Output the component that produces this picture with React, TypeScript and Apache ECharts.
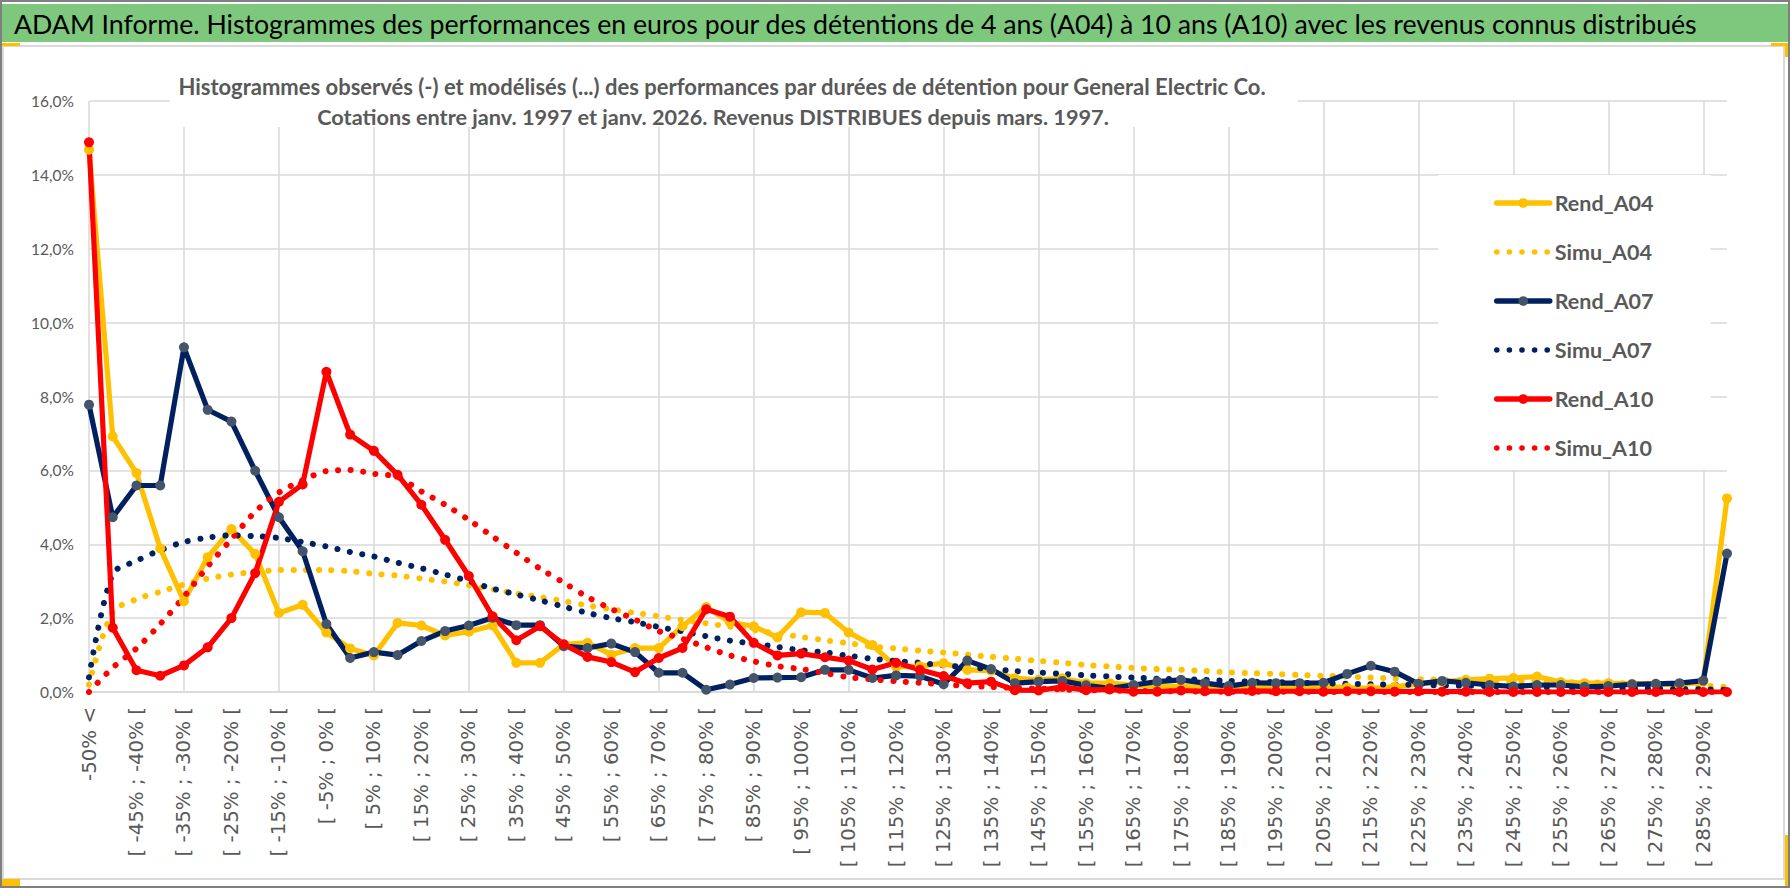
import React, { useEffect, useRef } from 'react';
import * as echarts from 'echarts';

const categories = [
  '-50% <',
  '[ -50% ; -45% [', '[ -45% ; -40% [', '[ -40% ; -35% [', '[ -35% ; -30% [', '[ -30% ; -25% [',
  '[ -25% ; -20% [', '[ -20% ; -15% [', '[ -15% ; -10% [', '[ -10% ; -5% [', '[ -5% ; 0% [',
  '[ 0% ; 5% [', '[ 5% ; 10% [', '[ 10% ; 15% [', '[ 15% ; 20% [', '[ 20% ; 25% [',
  '[ 25% ; 30% [', '[ 30% ; 35% [', '[ 35% ; 40% [', '[ 40% ; 45% [', '[ 45% ; 50% [',
  '[ 50% ; 55% [', '[ 55% ; 60% [', '[ 60% ; 65% [', '[ 65% ; 70% [', '[ 70% ; 75% [',
  '[ 75% ; 80% [', '[ 80% ; 85% [', '[ 85% ; 90% [', '[ 90% ; 95% [', '[ 95% ; 100% [',
  '[ 100% ; 105% [', '[ 105% ; 110% [', '[ 110% ; 115% [', '[ 115% ; 120% [', '[ 120% ; 125% [',
  '[ 125% ; 130% [', '[ 130% ; 135% [', '[ 135% ; 140% [', '[ 140% ; 145% [', '[ 145% ; 150% [',
  '[ 150% ; 155% [', '[ 155% ; 160% [', '[ 160% ; 165% [', '[ 165% ; 170% [', '[ 170% ; 175% [',
  '[ 175% ; 180% [', '[ 180% ; 185% [', '[ 185% ; 190% [', '[ 190% ; 195% [', '[ 195% ; 200% [',
  '[ 200% ; 205% [', '[ 205% ; 210% [', '[ 210% ; 215% [', '[ 215% ; 220% [', '[ 220% ; 225% [',
  '[ 225% ; 230% [', '[ 230% ; 235% [', '[ 235% ; 240% [', '[ 240% ; 245% [', '[ 245% ; 250% [',
  '[ 250% ; 255% [', '[ 255% ; 260% [', '[ 260% ; 265% [', '[ 265% ; 270% [', '[ 270% ; 275% [',
  '[ 275% ; 280% [', '[ 280% ; 285% [', '[ 285% ; 290% [', '> 290%',
];

const rendA04 = [
  14.68, 6.92, 5.93, 3.89, 2.46, 3.65, 4.41, 3.74, 2.14, 2.36,
  1.61, 1.18, 0.99, 1.87, 1.80, 1.53, 1.63, 1.80, 0.79, 0.79,
  1.29, 1.33, 1.01, 1.19, 1.19, 1.78, 2.30, 1.89, 1.78, 1.48,
  2.16, 2.14, 1.61, 1.27, 0.68, 0.70, 0.78, 0.60, 0.58, 0.37,
  0.33, 0.37, 0.24, 0.24, 0.18, 0.15, 0.15, 0.12, 0.12, 0.15,
  0.12, 0.12, 0.15, 0.12, 0.10, 0.14, 0.22, 0.28, 0.33, 0.36,
  0.38, 0.42, 0.27, 0.24, 0.24, 0.22, 0.22, 0.19, 0.28, 5.24,
];

const simuA04 = [
  0.20, 2.17, 2.51, 2.71, 2.91, 3.07, 3.18, 3.25, 3.30, 3.30,
  3.30, 3.27, 3.20, 3.15, 3.07, 2.99, 2.89, 2.78, 2.67, 2.57,
  2.46, 2.34, 2.24, 2.14, 2.05, 1.95, 1.86, 1.77, 1.68, 1.58,
  1.49, 1.40, 1.32, 1.23, 1.18, 1.12, 1.07, 1.01, 0.95, 0.90,
  0.84, 0.79, 0.73, 0.69, 0.65, 0.62, 0.60, 0.57, 0.53, 0.51,
  0.49, 0.46, 0.44, 0.42, 0.39, 0.37, 0.35, 0.33, 0.31, 0.30,
  0.29, 0.28, 0.27, 0.26, 0.25, 0.23, 0.22, 0.20, 0.17, 0.14,
];

const rendA07 = [
  7.78, 4.73, 5.59, 5.59, 9.33, 7.64, 7.32, 5.99, 4.73, 3.81,
  1.84, 0.92, 1.08, 1.00, 1.38, 1.65, 1.80, 2.01, 1.81, 1.81,
  1.24, 1.19, 1.31, 1.08, 0.52, 0.52, 0.06, 0.20, 0.38, 0.39,
  0.40, 0.60, 0.60, 0.38, 0.45, 0.43, 0.21, 0.85, 0.62, 0.24,
  0.28, 0.30, 0.18, 0.10, 0.19, 0.28, 0.33, 0.24, 0.16, 0.25,
  0.24, 0.24, 0.25, 0.49, 0.71, 0.55, 0.22, 0.30, 0.25, 0.19,
  0.15, 0.19, 0.19, 0.14, 0.16, 0.21, 0.22, 0.24, 0.31, 3.75,
];

const simuA07 = [
  0.40, 3.20, 3.55, 3.84, 4.06, 4.18, 4.24, 4.22, 4.17, 4.06,
  3.94, 3.79, 3.67, 3.50, 3.35, 3.18, 3.00, 2.80, 2.64, 2.48,
  2.31, 2.14, 2.00, 1.89, 1.76, 1.64, 1.51, 1.39, 1.31, 1.22,
  1.13, 1.07, 0.98, 0.90, 0.84, 0.79, 0.72, 0.67, 0.62, 0.57,
  0.53, 0.49, 0.45, 0.42, 0.39, 0.36, 0.34, 0.33, 0.30, 0.28,
  0.27, 0.25, 0.24, 0.22, 0.21, 0.20, 0.19, 0.18, 0.17, 0.16,
  0.15, 0.14, 0.13, 0.12, 0.11, 0.10, 0.09, 0.08, 0.07, 0.06,
];

const rendA10 = [
  14.88, 1.74, 0.59, 0.44, 0.72, 1.21, 2.00, 3.22, 5.15, 5.62,
  8.67, 6.97, 6.53, 5.88, 5.07, 4.12, 3.14, 2.05, 1.40, 1.78,
  1.29, 0.95, 0.81, 0.54, 0.92, 1.19, 2.24, 2.04, 1.33, 0.99,
  1.04, 0.94, 0.85, 0.61, 0.79, 0.60, 0.43, 0.24, 0.28, 0.05,
  0.04, 0.14, 0.05, 0.07, 0.01, 0.01, 0.04, 0.02, 0.02, 0.03,
  0.02, 0.02, 0.01, 0.02, 0.02, 0.01, 0.02, 0.01, 0.01, 0.00,
  0.00, 0.00, 0.00, 0.00, 0.00, 0.00, 0.00, 0.00, 0.00, 0.00,
];

const simuA10 = [
  0.00, 0.66, 1.18, 1.84, 2.58, 3.40, 4.14, 4.88, 5.40, 5.73,
  5.98, 6.01, 5.91, 5.82, 5.43, 5.07, 4.66, 4.21, 3.77, 3.34,
  2.96, 2.57, 2.25, 1.96, 1.65, 1.44, 1.21, 0.99, 0.83, 0.70,
  0.62, 0.51, 0.40, 0.34, 0.29, 0.25, 0.21, 0.16, 0.14, 0.11,
  0.09, 0.07, 0.05, 0.04, 0.03, 0.02, 0.02, 0.01, 0.01, 0.01,
  0.01, 0.01, 0.00, 0.00, 0.00, 0.00, 0.00, 0.00, 0.00, 0.00,
  0.00, 0.00, 0.00, 0.00, 0.00, 0.00, 0.00, 0.00, 0.00, 0.00,
];

const yTicks = { min: 0, max: 16, interval: 2 };

const mainTitle =
  'ADAM Informe. Histogrammes des performances en euros pour des détentions de 4 ans (A04) à 10 ans (A10) avec les revenus connus distribués';
const subTitle1 =
  'Histogrammes observés (-) et modélisés (...) des performances par durées de détention pour General Electric Co.';
const subTitle2 =
  'Cotations entre janv. 1997 et janv. 2026. Revenus DISTRIBUES depuis mars. 1997.';

const YELLOW = '#FFC000';
const NAVY = '#002060';
const NAVY_MARK = '#44546A';
const RED = '#FF0000';
const GRID = '#D9D9D9';
const TXT = '#595959';

function rend(name: string, data: number[], lineColor: string, markColor: string) {
  return {
    name,
    type: 'line',
    data,
    symbol: 'circle',
    symbolSize: 10,
    showSymbol: true,
    lineStyle: { color: lineColor, width: 5.2, join: 'round', cap: 'round' },
    itemStyle: { color: markColor, borderWidth: 0 },
    emphasis: { disabled: true },
  };
}

function simu(name: string, data: number[], color: string) {
  return {
    name,
    type: 'line',
    data,
    symbol: 'none',
    smooth: 0.3,
    lineStyle: { color, width: 6, type: [0.1, 12.5], cap: 'round' },
    itemStyle: { color },
    emphasis: { disabled: true },
  };
}

export default function App() {
  const ref = useRef<HTMLDivElement>(null);

  useEffect(() => {
    if (!ref.current) return;
    const chart = echarts.init(ref.current, undefined, { renderer: 'svg', width: 1790, height: 888 });
    const option: any = {
      animation: false,
      backgroundColor: '#ffffff',
      title: [
        {
          text: mainTitle,
          left: 14,
          top: 10,
          padding: 0,
          textStyle: { fontFamily: 'Lato', fontSize: 26.7, fontWeight: 'normal', color: '#000000' },
          z: 8,
        },
      ],
      graphic: [
        { type: 'rect', z: 1, shape: { x: 2, y: 4, width: 1786, height: 38 }, style: { fill: '#7DC87D' } },
        { type: 'rect', z: 1, shape: { x: 3, y: 46, width: 1781, height: 833 }, style: { fill: 'none', stroke: '#D9D9D9', lineWidth: 2 } },
        { type: 'rect', z: 10, shape: { x: 170, y: 64, width: 1128, height: 63 }, style: { fill: '#ffffff' } },
        {
          type: 'text', z: 11, x: 722, y: 86,
          style: { text: subTitle1, fill: TXT, font: 'bold 22px Lato', textAlign: 'center', textVerticalAlign: 'middle' },
        },
        {
          type: 'text', z: 11, x: 713, y: 117,
          style: { text: subTitle2, fill: TXT, font: 'bold 21.7px Lato', textAlign: 'center', textVerticalAlign: 'middle' },
        },
        { type: 'rect', z: 20, shape: { x: 2, y: 43, width: 18, height: 3 }, style: { fill: YELLOW } },
        { type: 'rect', z: 20, shape: { x: 1771, y: 43, width: 17, height: 3 }, style: { fill: YELLOW } },
        { type: 'rect', z: 20, shape: { x: 1785, y: 43, width: 3, height: 14 }, style: { fill: YELLOW } },
        { type: 'rect', z: 20, shape: { x: 2, y: 879, width: 18, height: 7 }, style: { fill: YELLOW } },
        { type: 'rect', z: 20, shape: { x: 1785, y: 835, width: 3, height: 51 }, style: { fill: YELLOW } },
        { type: 'rect', z: 21, shape: { x: 1, y: 1, width: 1788, height: 886 }, style: { fill: 'none', stroke: '#7F7F7F', lineWidth: 2 } },
      ],
      legend: {
        orient: 'vertical',
        left: 1438,
        top: 175,
        padding: [17, 57, 11, 56],
        backgroundColor: '#ffffff',
        itemWidth: 53,
        itemHeight: 12,
        itemGap: 27,
        selectedMode: false,
        lineStyle: { width: 5.5 },
        textStyle: { color: TXT, fontFamily: 'Lato', fontSize: 21.5, fontWeight: 'bold' },
        data: [
          { name: 'Rend_A04' },
          { name: 'Simu_A04', itemStyle: { opacity: 0 } },
          { name: 'Rend_A07' },
          { name: 'Simu_A07', itemStyle: { opacity: 0 } },
          { name: 'Rend_A10' },
          { name: 'Simu_A10', itemStyle: { opacity: 0 } },
        ],
      },
      grid: { left: 89, right: 63, top: 101, bottom: 196, containLabel: false },
      xAxis: {
        type: 'category',
        data: categories,
        boundaryGap: false,
        axisLine: { show: true, lineStyle: { color: GRID, width: 1.5 } },
        axisTick: { show: false },
        axisLabel: {
          interval: 1,
          rotate: 90,
          margin: 15,
          color: TXT,
          fontFamily: 'DejaVu Sans',
          fontSize: 19.8,
        },
        splitLine: { show: true, interval: 3, lineStyle: { color: GRID, width: 1.5 } },
      },
      yAxis: {
        type: 'value',
        min: yTicks.min,
        max: yTicks.max,
        interval: yTicks.interval,
        axisLine: { show: false },
        axisTick: { show: false },
        axisLabel: {
          margin: 15,
          color: TXT,
          fontFamily: 'Lato',
          fontSize: 15.5,
          formatter: (v: number) => v.toFixed(1).replace('.', ',') + '%',
        },
        splitLine: { show: true, lineStyle: { color: GRID, width: 1.5 } },
      },
      series: [
        rend('Rend_A04', rendA04, YELLOW, YELLOW),
        simu('Simu_A04', simuA04, YELLOW),
        rend('Rend_A07', rendA07, NAVY, NAVY_MARK),
        simu('Simu_A07', simuA07, NAVY),
        rend('Rend_A10', rendA10, RED, RED),
        simu('Simu_A10', simuA10, RED),
      ],
    };
    chart.setOption(option);
    return () => chart.dispose();
  }, []);

  return (
    <div style={{ position: 'fixed', left: 0, top: 0, width: 1790, height: 888, background: '#ffffff' }}>
      <div ref={ref} style={{ width: 1790, height: 888 }} />
    </div>
  );
}
